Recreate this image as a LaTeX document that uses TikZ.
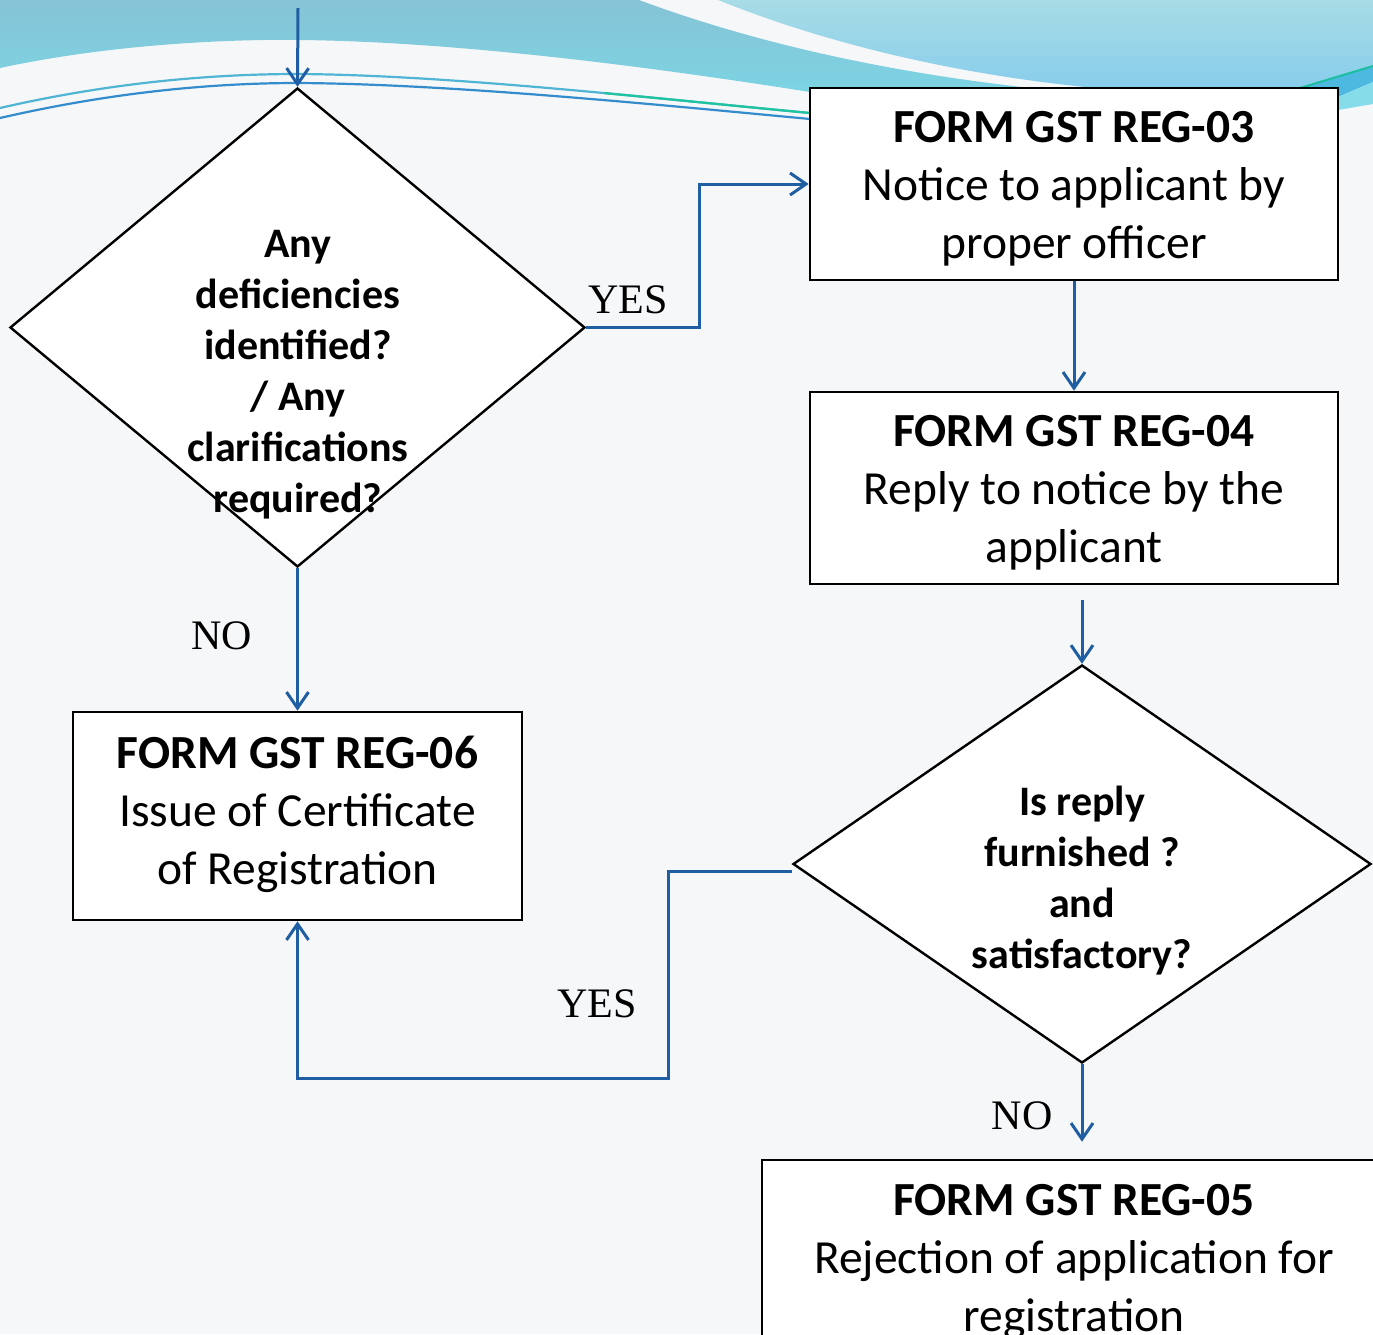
\documentclass[tikz,border=0pt]{standalone}
\usepackage{fontspec}
\setmainfont{Carlito}
\newfontfamily\labfont{Liberation Serif}
\usetikzlibrary{arrows.meta,shapes.geometric,calc}
\definecolor{conncol}{RGB}{31,94,162}
\definecolor{paper}{RGB}{246,247,248}
\definecolor{waveA}{RGB}{134,195,214}
\definecolor{waveB}{RGB}{124,212,227}
\definecolor{skyA}{RGB}{168,220,230}
\definecolor{skyB}{RGB}{136,205,236}
\definecolor{bandblue}{RGB}{77,184,224}
\definecolor{bandcyan}{RGB}{134,220,233}
\definecolor{teal}{RGB}{27,191,160}
\definecolor{strandA}{RGB}{80,180,212}
\definecolor{strandB}{RGB}{52,140,205}
\definecolor{strandC}{RGB}{30,195,160}
\definecolor{strandD}{RGB}{55,150,160}
\begin{document}
\begin{tikzpicture}[x=1pt,y=-1pt,
  boxnode/.style={draw=black,line width=2.6pt,fill=white,rectangle,inner sep=0pt},
  boxtext/.style={align=center,inner sep=0pt,font=\fontsize{47.5pt}{58pt}\selectfont},
  decision/.style={draw=black,line width=2.4pt,fill=white,diamond,inner sep=0pt},
  qtext/.style={align=center,inner sep=0pt,font=\fontsize{42pt}{51pt}\selectfont\bfseries},
  lab/.style={inner sep=0pt,font=\labfont\fontsize{42pt}{50pt}\selectfont},
  conn/.style={draw=conncol,line width=3pt,-{Straight Barb[length=16pt,width=22pt]}},
]
\clip (0,0) rectangle (1373,1334);
% page background
\fill[paper] (0,0) rectangle (1373,1334);

% header waves
\shade[top color=waveA,bottom color=waveB]
  (0,0) -- (639,0) .. controls (760,45) and (900,75) .. (1050,90)
  -- (810,92) .. controls (620,62) and (420,38) .. (263,40)
  .. controls (150,42) and (60,55) .. (0,68) -- cycle;
\shade[top color=skyA,bottom color=skyB]
  (718,0) .. controls (830,45) and (960,75) .. (1095,88)
  -- (1300,88) -- (1373,66) -- (1373,0) -- cycle;
\fill[bandblue] (1300,88) -- (1373,66) -- (1373,82) -- (1338,97) -- (1338,88) -- cycle;
\fill[bandcyan] (1338,97) -- (1373,82) -- (1373,104) -- (1338,110) -- cycle;
\draw[teal,line width=2pt] (1300,88) -- (1373,66);
% thin strands, their right ends recoloured along the same curves
\draw[strandA,line width=2.2pt] (0,108) .. controls (100,85) and (200,74) .. (298,74)
  .. controls (450,75) and (650,98) .. (810,113);
\draw[strandC,line width=2.2pt] (604.4,93.1) .. controls (675.6,99.72) and (746,107) .. (810,113);
\draw[strandB,line width=2.2pt] (0,118) .. controls (100,95) and (200,83) .. (298,83)
  .. controls (450,84) and (650,104) .. (810,119);

% flowchart shapes
\node[decision,minimum width=575pt,minimum height=479pt] (d1) at (297.5,327.5) {};
\node[qtext] (q1) at (298,375) {Any\\deficiencies\\identified?\\/ Any\\clarifications\\required?};

\node[boxnode,minimum width=528pt,minimum height=192pt] (b3) at (1074,184) {};
\node[boxtext] (t3) at (1074,189) {\textbf{FORM GST REG-03}\\Notice to applicant by\\proper officer};
\node[boxnode,minimum width=528pt,minimum height=192pt] (b4) at (1074,488) {};
\node[boxtext] (t4) at (1074,493) {\textbf{FORM GST REG-04}\\Reply to notice by the\\applicant};
\node[boxnode,minimum width=449pt,minimum height=208pt] (b6) at (297.5,816) {};
\node[boxtext] (t6) at (297.5,814) {\textbf{FORM GST REG-06}\\Issue of Certificate\\of Registration};

\node[decision,minimum width=578pt,minimum height=398pt] (d2) at (1082,864) {};
\node[qtext] (q2) at (1082,881) {Is reply\\furnished ?\\and\\satisfactory?};

\node[boxnode,minimum width=624pt,minimum height=194pt] (b5) at (1074,1257) {};
\node[boxtext] (t5) at (1074,1262) {\textbf{FORM GST REG-05}\\Rejection of application for\\registration};

% connectors
\coordinate (entry) at (298,8);
\coordinate (replyout) at (1082,600);
\draw[conn] (entry) -- (d1.north);
\draw[conn] (d1.east) -- ++(113,0) |- (b3.west);
\draw[conn] (b3.south) -- (b4.north);
\draw[conn] (replyout) -- (d2.north);
\draw[conn] (d1.south) -- (b6.north);
\draw[conn,shorten >=17pt] (d2.south) -- (d2.south |- b5.north);
\draw[conn] ([yshift=-7pt]d2.west) -- ++(-123,0) -- ++(0,207) -| (b6.south);

% branch labels
\node[lab] (yes1) at (628,300) {YES};
\node[lab] (no1) at (222,636) {NO};
\node[lab] (yes2) at (597,1004) {YES};
\node[lab] (no2) at (1022,1116) {NO};
\end{tikzpicture}
\end{document}
